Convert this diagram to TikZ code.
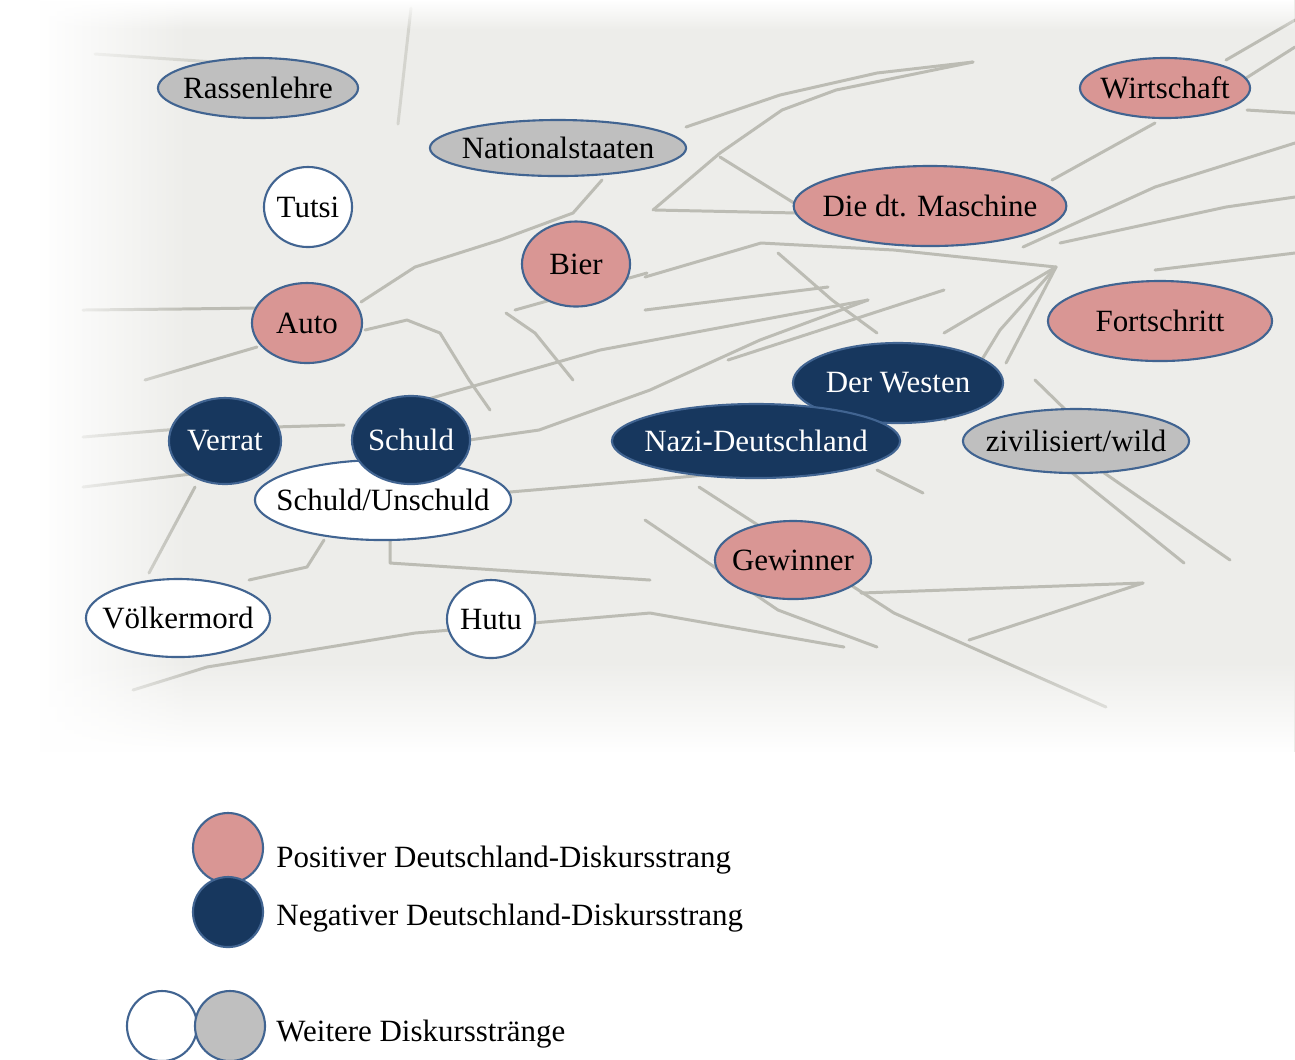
\documentclass[tikz,border=0pt]{standalone}
\usepackage{fontspec}
\setmainfont{Liberation Serif}
\usepackage{xcolor}
\usetikzlibrary{shapes.geometric, positioning, fadings}

\definecolor{rosa}{RGB}{217,150,148}
\definecolor{marine}{RGB}{23,55,94}
\definecolor{grau}{RGB}{191,191,191}
\definecolor{rand}{RGB}{65,100,145}
\definecolor{papier}{RGB}{237,237,234}
\definecolor{bleistift}{RGB}{188,188,180}

\tikzfading[name=weisslinks, left color=transparent!0, right color=transparent!100]
\tikzfading[name=weissunten, top color=transparent!100, bottom color=transparent!0]
\tikzfading[name=weissoben, top color=transparent!0, bottom color=transparent!100]

\begin{document}
\begin{tikzpicture}[x=0.01cm, y=-0.01cm, font=\fontsize{8.8}{10}\selectfont]
    \tikzstyle{diskurs}=[shape=ellipse, draw=rand, line width=0.6pt, inner xsep=-0.11cm, inner ysep=0pt]
    \tikzstyle{positiv}=[diskurs, fill=rosa, text=black]
    \tikzstyle{negativ}=[diskurs, fill=marine, text=white]
    \tikzstyle{weiter}=[diskurs, fill=white, text=black]
    \tikzstyle{weitergrau}=[diskurs, fill=grau, text=black]
    \tikzstyle{kreis}=[circle, inner sep=0pt, minimum size=0.7cm]
    \tikzstyle{strich}=[draw=bleistift, line width=0.85pt, line cap=round, line join=round]

    \useasboundingbox (0,0) rectangle (1295,1059);
    \fill[white] (0,0) rectangle (1295,1059);

    % Papier mit Bleistiftskizze
    \fill[papier] (40,0) rectangle (1295,752);
    \draw[strich] (83,310) -- (180,309) -- (257,308);
    \draw[strich] (361,302) -- (415,267) -- (500,240) -- (573,213) -- (602,180);
    \draw[strich] (365,330) -- (407,320) -- (440,333) -- (469,380) -- (490,410);
    \draw[strich] (145,380) -- (257,347);
    \draw[strich, opacity=0.5] (95,54) -- (274,66);
    \draw[strich, opacity=0.5] (411,8) -- (398,124);
    \draw[strich] (653,210) -- (720,153) -- (782,110) -- (836,90) -- (973,62);
    \draw[strich] (686,127) -- (780,95) -- (877,73) -- (973,62);
    \draw[strich] (655,210) -- (798,213);
    \draw[strich] (720,157) -- (794,203);
    \draw[strich] (645,277) -- (761,243) -- (894,250) -- (1056,267);
    \draw[strich] (778,253) -- (832,300) -- (877,333);
    \draw[strich] (1023,247) -- (1155,187) -- (1295,143);
    \draw[strich] (1052,180) -- (1155,123);
    \draw[strich] (1226,60) -- (1295,20);
    \draw[strich] (1243,80) -- (1295,47);
    \draw[strich] (1247,110) -- (1295,113);
    \draw[strich] (1060,243) -- (1226,207) -- (1295,197);
    \draw[strich] (1155,270) -- (1295,253);
    \draw[strich] (944,333) -- (1056,267);
    \draw[strich] (1006,363) -- (1056,267);
    \draw[strich] (645,310) -- (828,287);
    \draw[strich] (728,360) -- (944,290);
    \draw[strich] (83,437) -- (166,430) -- (344,425);
    \draw[strich] (83,487) -- (249,467);
    \draw[strich] (469,440) -- (539,430) -- (650,390) -- (760,340) -- (868,300);
    \draw[strich] (372,415) -- (600,350) -- (868,300);
    \draw[strich] (498,493) -- (650,480) -- (760,470);
    \draw[strich] (390,540) -- (390,563) -- (650,580);
    \draw[strich] (324,540) -- (307,567) -- (249,580);
    \draw[strich] (195,487) -- (149,573);
    \draw[strich] (133,690) -- (207,667) -- (415,633) -- (650,613) -- (844,647);
    \draw[strich] (699,487) -- (894,613) -- (1106,707);
    \draw[strich] (645,520) -- (778,610) -- (877,647);
    \draw[strich] (861,593) -- (1143,583);
    \draw[strich] (969,640) -- (1143,583);
    \draw[strich] (1060,463) -- (1184,563);
    \draw[strich] (1100,470) -- (1230,560);
    \draw[strich] (877,470) -- (923,493);
    \draw[strich] (1035,380) -- (1076,420);
    \draw[strich] (506,313) -- (535,333) -- (573,380);
    \draw[strich] (515,310) -- (647,273);
    \draw[strich] (945,420) -- (1000,330) -- (1056,267);
    \fill[white, path fading=weisslinks] (40,0) rectangle (190,752);
    \fill[white, path fading=weissunten] (40,660) rectangle (1295,752);
    \fill[white, path fading=weissoben] (40,0) rectangle (1295,30);

    % Diskursstraenge
    \node[weitergrau, minimum width=2cm, minimum height=0.6cm] (rassen) at (258,88) {Rassenlehre};
    \node[weitergrau, minimum width=2.56cm, minimum height=0.56cm] (national) at (558,148) {Nationalstaaten};
    \node[positiv, minimum width=1.7cm, minimum height=0.6cm] (wirtschaft) at (1165,88) {Wirtschaft};
    \node[weiter, minimum width=0.88cm, minimum height=0.8cm] (tutsi) at (308,207) {Tutsi};
    \node[positiv, minimum width=2.66cm, minimum height=0.8cm] (maschine) at (930,206) {Die dt. Maschine};
    \node[positiv, minimum width=1.08cm, minimum height=0.85cm] (bier) at (576,264) {Bier};
    \node[positiv, minimum width=1.1cm, minimum height=0.8cm] (auto) at (307,323) {Auto};
    \node[positiv, minimum width=2.24cm, minimum height=0.8cm] (fortschritt) at (1160,321) {Fortschritt};
    \node[negativ, minimum width=2.1cm, minimum height=0.8cm] (westen) at (898,383) {Der Westen};
    \node[negativ, minimum width=2.88cm, minimum height=0.74cm] (nazi) at (756,441) {Nazi-Deutschland};
    \node[weitergrau, minimum width=2.26cm, minimum height=0.64cm] (zivil) at (1076,441) {zivilisiert/wild};
    \node[negativ, minimum width=1.12cm, minimum height=0.86cm] (verrat) at (225,441) {Verrat};
    \node[weiter, minimum width=2.56cm, minimum height=0.8cm, inner xsep=-0.16cm] (unschuld) at (383,500) {Schuld/Unschuld};
    \node[negativ, minimum width=1.18cm, minimum height=0.88cm] (schuld) at (411,440) {Schuld};
    \node[positiv, minimum width=1.56cm, minimum height=0.78cm] (gewinner) at (793,560) {Gewinner};
    \node[weiter, minimum width=1.84cm, minimum height=0.78cm] (voelker) at (178,618) {Völkermord};
    \node[weiter, minimum width=0.88cm, minimum height=0.78cm] (hutu) at (491,619) {Hutu};

    % Legende
    \node[positiv, kreis] (lpos) at (228,848) {};
    \node[negativ, kreis] (lneg) at (228,912) {};
    \node[weiter, kreis] (lweiss) at (162,1026) {};
    \node[weitergrau, kreis] (lgrau) at (230,1026) {};
    \node[anchor=west] (tpos) at (264,860) {Positiver Deutschland-Diskursstrang};
    \node[anchor=west] (tneg) at (264,918) {Negativer Deutschland-Diskursstrang};
    \node[anchor=west] (tweiter) at (264,1034) {Weitere Diskursstränge};
\end{tikzpicture}
\end{document}
